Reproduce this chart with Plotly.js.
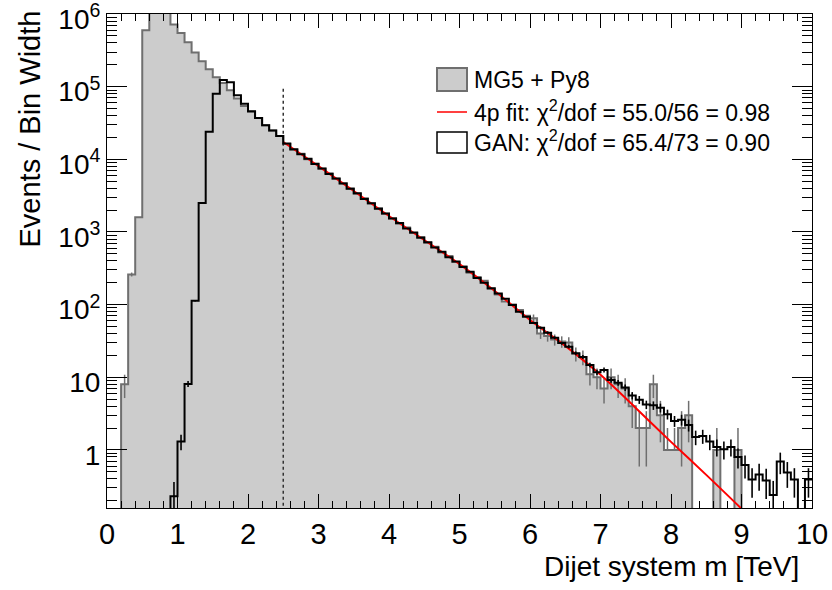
<!DOCTYPE html>
<html><head><meta charset="utf-8">
<script src="https://cdn.plot.ly/plotly-3.0.1.min.js"></script>
<style>html,body{margin:0;padding:0;background:#fff}</style>
</head><body>
<div id="chart" style="width:832px;height:590px"></div>
<script>
// ---- data (values are Events / Bin Width, bins of 0.1 TeV from 0 to 10 TeV) ----
const binWidth = 0.1;
const nBins = 100;

const mg5 = [
  0, 0, 8, 260, 1600, 600000, 1400000, 1500000, 1300000, 720000,
  550000, 410000, 295000, 224000, 174000, 135000, 112000, 89000, 69000, 54000,
  45000, 37000, 29500, 25000, 21000, 16300, 13500, 11900, 10000, 8750,
  7400, 6450, 5400, 4700, 3980, 3350, 2900, 2470, 2120, 1780,
  1550, 1300, 1150, 965, 850, 710, 625, 520, 465, 385,
  338, 275, 240, 213, 165, 138, 110, 100, 84, 70,
  65, 40, 37, 33, 31, 30, 21, 19, 11, 10,
  7, 10, 8, 7, 4, 2, 2, 8, 3, 1,
  1, 2, 3, 0, 0, 0, 1, 0, 0, 1,
  0, 0, 0, 0, 0, 0, 0, 0, 0, 0
];
// upper and lower statistical errors of MG5 (lower part not drawn when it reaches zero on the log scale)
const mg5ErrUp = [
  0, 0, 2.83, 16.1, 0, 0, 0, 0, 0, 0,
  0, 0, 0, 0, 0, 0, 0, 0, 0, 0,
  0, 0, 0, 0, 0, 0, 0, 0, 0, 0,
  0, 0, 0, 0, 0, 0, 0, 0, 0, 0,
  0, 0, 0, 0, 0, 0, 0, 0, 0, 0,
  0, 0, 0, 0, 0, 0, 0, 0, 0, 0,
  8.06, 6.32, 6.08, 5.74, 5.57, 5.48, 4.58, 4.36, 3.32, 3.16,
  2.65, 3.16, 2.83, 2.65, 2.0, 1.41, 1.41, 2.83, 1.73, 1.0,
  1.0, 1.41, 1.73, 0, 0, 0, 1.0, 0, 0, 1.0,
  0, 0, 0, 0, 0, 0, 0, 0, 0, 0
];
const mg5ErrDown = [
  0, 0, 2.83, 16.1, 0, 0, 0, 0, 0, 0,
  0, 0, 0, 0, 0, 0, 0, 0, 0, 0,
  0, 0, 0, 0, 0, 0, 0, 0, 0, 0,
  0, 0, 0, 0, 0, 0, 0, 0, 0, 0,
  0, 0, 0, 0, 0, 0, 0, 0, 0, 0,
  0, 0, 0, 0, 0, 0, 0, 0, 0, 0,
  8.06, 6.32, 6.08, 5.74, 5.57, 5.48, 4.58, 4.36, 3.32, 3.16,
  2.65, 3.16, 2.83, 2.65, 2.0, 1.41, 1.41, 2.83, 1.73, 0,
  0, 1.41, 1.73, 0, 0, 0, 0, 0, 0, 0,
  0, 0, 0, 0, 0, 0, 0, 0, 0, 0
];
const gan = [
  0, 0, 0, 0, 0, 0, 0, 0, 0, 0.23,
  1.3, 8.1, 113, 2500, 24000, 80000, 124000, 115000, 76000, 58000,
  46000, 37000, 29500, 25000, 21000, 16500, 13800, 11700, 10200, 8600,
  7500, 6300, 5450, 4650, 3920, 3400, 2850, 2480, 2090, 1800,
  1530, 1330, 1120, 980, 830, 720, 612, 535, 450, 392,
  330, 283, 232, 200, 168, 142, 120, 99, 80, 68,
  56, 48, 41, 35, 29.5, 26.3, 21.4, 19, 14.8, 11.7,
  12.6, 9.2, 8.4, 7.2, 5.6, 4.9, 4.2, 4.1, 3.8, 3.1,
  2.5, 2.6, 2.2, 1.5, 1.55, 1.3, 1.1, 1.02, 1.1, 0.8,
  0.62, 0.39, 0.46, 0.38, 0.24, 0.69, 0.49, 0.39, 0, 0.39
];
const ganErr = [
  0, 0, 0, 0, 0, 0, 0, 0, 0, 0.131,
  0.312, 0.78, 2.9, 13.7, 0, 0, 0, 0, 0, 0,
  0, 0, 0, 0, 0, 0, 0, 0, 0, 0,
  0, 0, 0, 0, 0, 0, 0, 0, 0, 0,
  0, 0, 0, 0, 0, 0, 0, 0, 0, 0,
  0, 0, 0, 0, 0, 0, 0, 0, 0, 0,
  2.05, 1.90, 1.75, 1.62, 1.49, 1.40, 1.27, 1.19, 1.05, 0.94,
  0.97, 0.83, 0.79, 0.73, 0.65, 0.61, 0.56, 0.55, 0.53, 0.48,
  0.43, 0.44, 0.41, 0.34, 0.34, 0.31, 0.29, 0.28, 0.29, 0.245,
  0.215, 0.17, 0.186, 0.169, 0.134, 0.227, 0.19, 0.17, 0, 0.17
];
// 4-parameter fit curve
const fitX = [2.5, 3.0, 3.5, 4.0, 4.5, 5.0, 5.5, 6.0, 6.5, 7.0, 7.5, 8.0, 8.5, 9.0];
const fitY = [17300, 8050, 3660, 1656, 774, 361, 154, 61.4, 27.0, 10.8, 3.78, 1.29, 0.453, 0.155];
const fitStart = 2.5;      // dotted marker of the fit range start
const fitMarkerTop = 1e5;

const legendLabels = [
  "MG5 + Py8",
  "4p fit: \u03c7<sup>2</sup>/dof = 55.0/56 = 0.98",
  "GAN: \u03c7<sup>2</sup>/dof = 65.4/73 = 0.90"
];
const xTitle = "Dijet system m [TeV]";
const yTitle = "Events / Bin Width";
const yTickVals = [1, 10, 100, 1000, 1e4, 1e5, 1e6];
const yTickText = ["1", "10", "10<sup>2</sup>", "10<sup>3</sup>", "10<sup>4</sup>", "10<sup>5</sup>", "10<sup>6</sup>"];

// ---- build drawing arrays ----
const floorVal = 1e-3; // empty bins drawn below the visible range
const edges = [], centers = [];
for (let i = 0; i <= nBins; i++) edges.push(+(i * binWidth).toFixed(2));
for (let i = 0; i < nBins; i++) centers.push(+((i + 0.5) * binWidth).toFixed(2));
const stepY = arr => { const a = arr.map(v => v > 0 ? v : floorVal); a.push(a[a.length - 1]); return a; };
const ptY = arr => arr.map(v => v > 0 ? v : floorVal);

const FONT = "Liberation Sans, Arial, Helvetica, sans-serif";
const GRAYLINE = "#6f6f6f";

const minorY = [];
for (let e = -1; e < 6; e++) for (let d = 2; d <= 9; d++) minorY.push(d * Math.pow(10, e));

const traces = [
  { x: edges, y: stepY(mg5), type: "scatter", mode: "lines", line: { shape: "hv", color: GRAYLINE, width: 2 },
    fill: "tozeroy", fillcolor: "#cccccc", showlegend: false, hoverinfo: "skip" },
  { x: centers, y: ptY(mg5), type: "scatter", mode: "markers", marker: { size: 1, color: "rgba(0,0,0,0)" },
    error_y: { type: "data", symmetric: false, array: mg5ErrUp, arrayminus: mg5ErrDown, visible: true, width: 0, thickness: 1.5, color: GRAYLINE },
    showlegend: false, hoverinfo: "skip" },
  { x: [fitStart, fitStart], y: [floorVal, fitMarkerTop], type: "scatter", mode: "lines",
    line: { color: "#333", width: 1.5, dash: "dot" }, showlegend: false, hoverinfo: "skip" },
  { x: fitX, y: fitY, type: "scatter", mode: "lines", line: { color: "#ff0000", width: 2, shape: "spline" },
    showlegend: false, hoverinfo: "skip" },
  { x: edges, y: stepY(gan), type: "scatter", mode: "lines", line: { shape: "hv", color: "#000", width: 2 },
    showlegend: false, hoverinfo: "skip" },
  { x: centers, y: ptY(gan), type: "scatter", mode: "markers", marker: { size: 1, color: "rgba(0,0,0,0)" },
    error_y: { type: "data", array: ganErr, visible: true, width: 0, thickness: 1.6, color: "#000" }, showlegend: false, hoverinfo: "skip" }
];

// plot area: left 107, right 812, top 14, bottom 508 (px)
const L = 107, R = 812, T = 14, B = 508, W = 832, H = 590;
const px2x = p => (p - L) / (R - L);
const px2y = p => (B - p) / (B - T);

const layout = {
  width: W, height: H,
  margin: { l: L, r: W - R, t: T, b: H - B, pad: 0 },
  paper_bgcolor: "#fff", plot_bgcolor: "#fff",
  font: { family: FONT, color: "#000", size: 29 },
  showlegend: false,
  xaxis: {
    range: [0, 10], tick0: 0, dtick: 1, ticks: "inside", ticklen: 14, tickwidth: 1, tickcolor: "#000",
    minor: { dtick: 0.2, tick0: 0, ticks: "inside", ticklen: 7, tickwidth: 1, tickcolor: "#000" },
    showline: true, linecolor: "#000", linewidth: 1, mirror: "allticks",
    showgrid: false, zeroline: false, automargin: false, ticklabeloverflow: "allow",
    tickfont: { family: FONT, size: 29, color: "#000" }
  },
  yaxis: {
    type: "log", range: [-0.8, 6.0005], tickmode: "array", tickvals: yTickVals, ticktext: yTickText,
    ticks: "inside", ticklen: 20, tickwidth: 1, tickcolor: "#000",
    minor: { tickmode: "array", tickvals: minorY, ticks: "inside", ticklen: 10, tickwidth: 1, tickcolor: "#000" },
    showline: true, linecolor: "#000", linewidth: 1, mirror: "allticks",
    showgrid: false, zeroline: false, automargin: false, ticklabeloverflow: "allow",
    ticklabelshift: 5,
    tickfont: { family: FONT, size: 28, color: "#000" }
  },
  shapes: [
    { type: "rect", xref: "paper", yref: "paper", x0: px2x(437), x1: px2x(467), y0: px2y(91), y1: px2y(68),
      fillcolor: "#cccccc", line: { color: GRAYLINE, width: 2 } },
    { type: "line", xref: "paper", yref: "paper", x0: px2x(437), x1: px2x(467), y0: px2y(112), y1: px2y(112),
      line: { color: "#ff0000", width: 1.5 } },
    { type: "rect", xref: "paper", yref: "paper", x0: px2x(437), x1: px2x(467), y0: px2y(153), y1: px2y(132),
      fillcolor: "#ffffff", line: { color: "#000", width: 1.5 } }
  ],
  annotations: [
    { text: legendLabels[0], xref: "paper", yref: "paper", x: px2x(472), y: px2y(80), xanchor: "left", yanchor: "middle",
      showarrow: false, font: { family: FONT, size: 23, color: "#000" } },
    { text: legendLabels[1], xref: "paper", yref: "paper", x: px2x(472), y: px2y(111), xanchor: "left", yanchor: "middle",
      showarrow: false, font: { family: FONT, size: 23, color: "#000" } },
    { text: legendLabels[2], xref: "paper", yref: "paper", x: px2x(472), y: px2y(141), xanchor: "left", yanchor: "middle",
      showarrow: false, font: { family: FONT, size: 23, color: "#000" } },
    { text: xTitle, xref: "paper", yref: "paper", x: px2x(801), y: px2y(566), xanchor: "right", yanchor: "middle",
      showarrow: false, font: { family: FONT, size: 28, color: "#000" } },
    { text: yTitle, xref: "paper", yref: "paper", x: px2x(29), y: px2y(9), xanchor: "center", yanchor: "top",
      textangle: -90, showarrow: false, font: { family: FONT, size: 29, color: "#000" } }
  ]
};

Plotly.newPlot("chart", traces, layout, { staticPlot: true, displayModeBar: false });
</script>
</body></html>
